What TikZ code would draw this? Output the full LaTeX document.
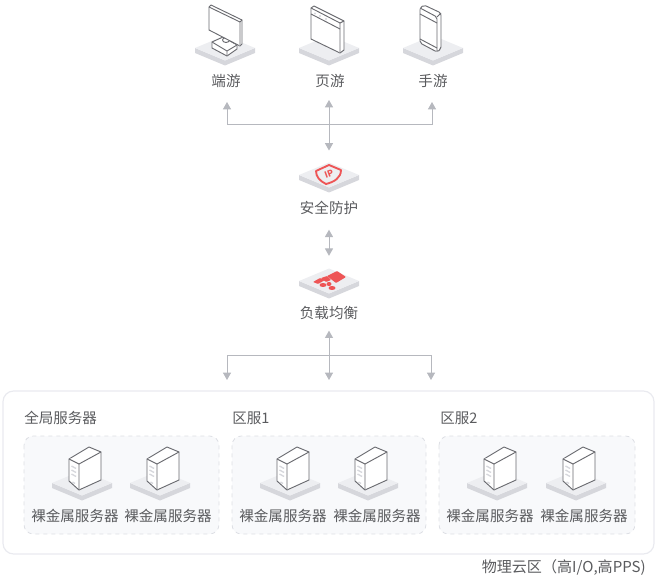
\documentclass[tikz,border=0pt]{standalone}
\usepackage{fontspec}
\setmainfont{Noto Sans CJK SC}
\usetikzlibrary{arrows.meta}
\definecolor{platTop}{HTML}{EDEEF1}
\definecolor{platSide}{HTML}{D6D7DC}
\definecolor{linkGray}{HTML}{B6B8BE}
\definecolor{iconGray}{HTML}{6A6B70}
\definecolor{textGray}{HTML}{5A5B5E}
\definecolor{alertRed}{HTML}{EE5556}
\definecolor{zoneLine}{HTML}{E9EAEF}
\definecolor{groupFill}{HTML}{F8F9FB}
\definecolor{groupLine}{HTML}{DDDFE4}

\tikzset{
    lbl/.style={font=\fontsize{10.9pt}{12pt}\selectfont, text=textGray, inner sep=0pt},
    title/.style={lbl, anchor=west},
    arrow/.style={-{Triangle[width=6pt,length=5.5pt]}, line width=0.75pt, draw=linkGray},
    biarrow/.style={arrow, {Triangle[width=6pt,length=5.5pt]}-{Triangle[width=6pt,length=5.5pt]}},
    wire/.style={line width=0.7pt, draw=iconGray, line join=round, fill=white},
    plat/.pic={
        \fill[platSide] (-30,0) -- (0,12.5) -- (30,0) -- (30,5) -- (0,17.5) -- (-30,5) -- cycle;
        \fill[platTop] (-30,0) -- (0,-12.5) -- (30,0) -- (0,12.5) -- cycle;
        \coordinate (-top) at (0,-12.5);
    },
    monitor/.pic={
        % stand
        \draw[wire] (-13,-6) -- (-2,-11) -- (12,-3) -- (12,1) -- (2,8) -- (-13,0) -- cycle;
        \draw[wire] (-13,-6) -- (2,3) -- (12,-3) (2,3) -- (2,8);
        \draw[wire] (1,-8) circle[x radius=3.5, y radius=2.5];
        % screen
        \draw[wire] (-16,-41) -- (-14,-43) -- (17,-28) -- (17,-4) -- (15,-2) -- (-16,-18) -- cycle;
        \draw[wire] (-16,-41) -- (15,-26) -- (15,-2) (15,-26) -- (17,-28);
    },
    browser/.pic={
        \draw[wire] (-18,-40) -- (-15,-42) -- (15,-27) -- (15,2) -- (11,5) -- (-18,-9) -- cycle;
        \draw[wire] (-18,-40) -- (11,-25) -- (11,5) (11,-25) -- (15,-27);
        \draw[wire] (-18,-34) -- (11,-19);
        \fill[platSide] (-14,-34.5) circle[radius=1.2] (-9,-32) circle[radius=1.2] (-3,-29) circle[radius=1.2];
    },
    phone/.pic={
        \draw[wire, rounded corners=1.5pt] (-13,-40) -- (-9,-43) -- (8,-35) -- (8,1) -- (4,4) -- (-13,-5) -- cycle;
        \draw[wire, rounded corners=1.5pt] (-13,-40) -- (4,-31) -- (4,4) (4,-31) -- (8,-35);
        \draw[wire] (-13,-34) -- (4,-25) (-13,-9) -- (4,0);
    },
    server/.pic={
        \draw[wire] (-13,-24) -- (7,-36) -- (19,-31) -- (19,-3) -- (-3,7) -- (-13,-2) -- cycle;
        \draw[wire] (-13,-24) -- (-3,-19) -- (19,-31) (-3,-19) -- (-3,7);
        \draw[line width=1pt, draw=platSide] (-10.5,-17) -- (-6,-14.5) (-10.5,-13) -- (-6,-10.5) (-10.5,-9) -- (-6,-6.5) (-9.5,-1) -- (-7,0.5);
    },
    shieldmark/.pic={
        \draw[line width=1.4pt, draw=alertRed, line join=round] (-13,-4) -- (0,-10) -- (12,-5) .. controls (12,3) and (5,7) .. (-3,9) .. controls (-9,6) and (-13,2) .. cycle;
    },
    balancemark/.pic={
        \fill[alertRed, rounded corners=0.5pt] (-2,-5) -- (8,-10) -- (17,-4) -- (7,2) -- cycle;
        \fill[alertRed, rounded corners=0.5pt] (-16,1) -- (-9,-3) -- (-4,-1) -- (-11,3) -- cycle;
        \fill[alertRed, rounded corners=0.5pt] (-8,-3) -- (-2,-5) -- (2,-1) -- (-3,1) -- cycle;
        \fill[alertRed] (-6,4) circle[x radius=3.5, y radius=2];
        \fill[alertRed] (0,3) circle[x radius=2.5, y radius=2];
        \fill[alertRed] (3,7) circle[x radius=3.5, y radius=2];
    }
}

\begin{document}
\begin{tikzpicture}[x=0.75pt, y=-0.75pt]
\useasboundingbox (0,0) rectangle (661,581);

% Physical zone and its three groups
\draw[zoneLine, line width=0.9pt, rounded corners=8pt] (3,391) rectangle (654,554);
\draw[groupLine, fill=groupFill, dashed, line width=0.6pt, rounded corners=7pt] (24,436) rectangle (219,534);
\draw[groupLine, fill=groupFill, dashed, line width=0.6pt, rounded corners=7pt] (232,436) rectangle (426,534);
\draw[groupLine, fill=groupFill, dashed, line width=0.6pt, rounded corners=7pt] (439,436) rectangle (635,534);

% Clients
\pic (pc) at (225,48) {plat};
\pic at (225,48) {monitor};
\pic (web) at (329,48) {plat};
\pic at (329,48) {browser};
\pic (mobile) at (433,48) {plat};
\pic at (433,48) {phone};
\node[lbl] (pc_lbl) at (226,81) {端游};
\node[lbl] (web_lbl) at (330,81) {页游};
\node[lbl] (mobile_lbl) at (433,81) {手游};

% Protection and load balancing
\pic (guard) at (329,175) {plat};
\pic at (329,175) {shieldmark};
\node[font=\fontsize{6.5pt}{7pt}\selectfont\bfseries, text=alertRed, inner sep=0pt, rotate=20] (guard_ip) at (329,174) {IP};
\node[lbl] (guard_lbl) at (329,208) {安全防护};
\pic (balance) at (329,281) {plat};
\pic at (329,281) {balancemark};
\node[lbl] (balance_lbl) at (329,313) {负载均衡};

% Zone titles
\node[title] (global_lbl) at (24,418) {全局服务器};
\node[title] (zone_a_lbl) at (232,418) {区服1};
\node[title] (zone_b_lbl) at (440,418) {区服2};

% Servers
\pic at (82,483) {plat};
\pic at (82,483) {server};
\pic at (160,483) {plat};
\pic at (160,483) {server};
\pic at (290,483) {plat};
\pic at (290,483) {server};
\pic at (368,483) {plat};
\pic at (368,483) {server};
\pic at (497,483) {plat};
\pic at (497,483) {server};
\pic at (576,483) {plat};
\pic at (576,483) {server};
\node[lbl] (srv_a) at (75,516) {裸金属服务器};
\node[lbl] (srv_b) at (168,516) {裸金属服务器};
\node[lbl] (srv_c) at (283,516) {裸金属服务器};
\node[lbl] (srv_d) at (377,516) {裸金属服务器};
\node[lbl] (srv_e) at (490,516) {裸金属服务器};
\node[lbl] (srv_f) at (584,516) {裸金属服务器};
\node[lbl, anchor=east, font=\fontsize{11.3pt}{12pt}\selectfont] (zone_lbl) at (646,568) {物理云区（高I/O,高PPS)};

% Links
\coordinate (top_bus) at (329,125);
\coordinate (pc_tip) at (227,102);
\coordinate (mobile_tip) at (432,102);
\coordinate (low_bus) at (329,355);
\coordinate (left_tip) at (227,380);
\coordinate (mid_tip) at (329,380);
\coordinate (right_tip) at (431,380);

\draw[biarrow, shorten <=9pt, shorten >=9pt] (guard-top |- web_lbl.south) -- (guard-top);
\draw[arrow] (top_bus) -| (pc_tip);
\draw[arrow] (top_bus) -| (mobile_tip);
\draw[biarrow, shorten <=11pt, shorten >=9.5pt] (guard_lbl.south) -- (balance-top);
\draw[biarrow, shorten <=8pt] (balance_lbl.south) -- (mid_tip);
\draw[arrow] (low_bus) -| (left_tip);
\draw[arrow] (low_bus) -| (right_tip);

\end{tikzpicture}
\end{document}
